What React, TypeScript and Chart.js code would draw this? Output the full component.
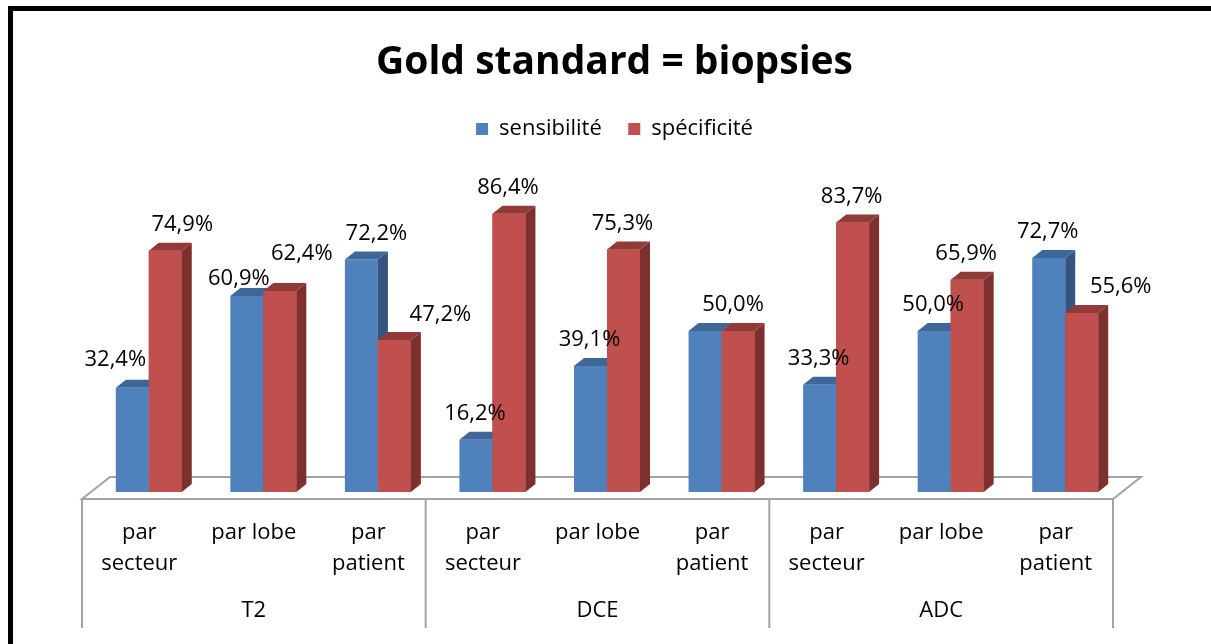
import React, { useEffect, useRef } from "react";
import { Chart, registerables } from "chart.js";

Chart.register(...registerables);

// ---- data ----
const categories: (string | string[])[] = [
  ["par", "secteur"], "par lobe", ["par", "patient"],
  ["par", "secteur"], "par lobe", ["par", "patient"],
  ["par", "secteur"], "par lobe", ["par", "patient"],
];
const groupLabels = ["T2", "DCE", "ADC"];
const groupSize = 3;
const seriesNames = ["sensibilité", "spécificité"];
const sensibilite = [32.4, 60.9, 72.2, 16.2, 39.1, 50.0, 33.3, 50.0, 72.7];
const specificite = [74.9, 62.4, 47.2, 86.4, 75.3, 50.0, 83.7, 65.9, 55.6];
const chartTitle = "Gold standard = biopsies";

// label placement tweaks (Excel moved some labels to avoid overlaps; null = hidden behind an identical label)
const labelNudgeSens: ([number, number] | null)[] = [[-16, -2], [-7, 9], [16, 0], [0, 0], [0, 0], null, [0, 0], [0, 0], [0, 0]];
const labelNudgeSpec: ([number, number] | null)[] = [[18, 0], [23, -11], [47, 1], [0, 0], [0, 0], [-4, 0], [0, 0], [0, 0], [40, 0]];

// ---- style ----
const FONT = "'Open Sans'";
const TEXT_SIZE = 22;
const BLUE = "#4F81BD", BLUE_TOP = "#3E6798", BLUE_SIDE = "#35547E";
const RED = "#C0504D", RED_TOP = "#903B38", RED_SIDE = "#7E302E";
const DEPTH_X = 10, DEPTH_Y = 8;
const SHIFT_X = 9.5, SHIFT_Y = 7;
const FLOOR_DX = 28, FLOOR_DY = 22;
const GRID = "#A3A3A3";

const fmt = (v: number) => v.toFixed(1).replace(".", ",") + "%";

function drawFaces(ctx: CanvasRenderingContext2D, el: any, side: string, top: string) {
  const l = el.x - el.width / 2, r = el.x + el.width / 2;
  const t = el.y, b = el.base;
  ctx.fillStyle = side;
  ctx.beginPath();
  ctx.moveTo(r, t);
  ctx.lineTo(r + DEPTH_X, t - DEPTH_Y);
  ctx.lineTo(r + DEPTH_X, b - DEPTH_Y);
  ctx.lineTo(r, b);
  ctx.closePath();
  ctx.fill();
  ctx.fillStyle = top;
  ctx.beginPath();
  ctx.moveTo(l, t);
  ctx.lineTo(r, t);
  ctx.lineTo(r + DEPTH_X, t - DEPTH_Y);
  ctx.lineTo(l + DEPTH_X, t - DEPTH_Y);
  ctx.closePath();
  ctx.fill();
}

const threeD = {
  id: "threeD",
  beforeDraw(chart: any) {
    const ctx = chart.ctx;
    ctx.save();
    ctx.fillStyle = "#fff";
    ctx.fillRect(0, 0, chart.width, chart.height);
    ctx.strokeStyle = "#000";
    ctx.lineWidth = 5;
    ctx.lineJoin = "miter";
    ctx.beginPath();
    ctx.moveTo(10.5, chart.height + 10);
    ctx.lineTo(10.5, 8.5);
    ctx.lineTo(chart.width + 10, 8.5);
    ctx.stroke();
    ctx.restore();
  },
  beforeDatasetsDraw(chart: any) {
    const { ctx, chartArea: a, scales } = chart;
    const x = scales.x;
    ctx.save();
    ctx.strokeStyle = GRID;
    ctx.lineWidth = 2;
    ctx.fillStyle = "#fff";
    ctx.beginPath();
    ctx.moveTo(a.left, a.bottom);
    ctx.lineTo(a.right, a.bottom);
    ctx.lineTo(a.right + FLOOR_DX, a.bottom - FLOOR_DY);
    ctx.lineTo(a.left + FLOOR_DX, a.bottom - FLOOR_DY);
    ctx.closePath();
    ctx.fill();
    ctx.stroke();
    // group dividers
    const xs = [a.left, a.right];
    for (let g = 1; g < groupLabels.length; g++) {
      const i = g * groupSize;
      xs.push((x.getPixelForValue(i - 1) + x.getPixelForValue(i)) / 2);
    }
    ctx.beginPath();
    xs.forEach((px) => {
      ctx.moveTo(px, a.bottom);
      ctx.lineTo(px, a.bottom + 129);
    });
    ctx.stroke();
    // group labels
    ctx.fillStyle = "#000";
    ctx.font = `${TEXT_SIZE}px ${FONT}`;
    ctx.textAlign = "center";
    ctx.textBaseline = "middle";
    groupLabels.forEach((g, k) => {
      const px = x.getPixelForValue(k * groupSize + (groupSize - 1) / 2);
      ctx.fillText(g, px, a.bottom + 112);
    });
    ctx.restore();
    ctx.save();
    ctx.translate(SHIFT_X, -SHIFT_Y);
  },
  afterDatasetsDraw(chart: any) {
    const ctx = chart.ctx;
    const metaS = chart.getDatasetMeta(0);
    const metaP = chart.getDatasetMeta(1);
    const dsS = chart.data.datasets[0] as any;
    const dsP = chart.data.datasets[1] as any;
    // depth faces: blue faces first, then the red bar (front redrawn by its Chart.js element) on top
    metaS.data.forEach((el: any, i: number) => {
      drawFaces(ctx, el, dsS.sideColor, dsS.topColor);
      const red = metaP.data[i];
      red.draw(ctx);
      drawFaces(ctx, red, dsP.sideColor, dsP.topColor);
    });
    ctx.restore();
    ctx.save();
    ctx.fillStyle = "#000";
    ctx.font = `${TEXT_SIZE}px ${FONT}`;
    ctx.textAlign = "center";
    ctx.textBaseline = "middle";
    chart.data.datasets.forEach((ds: any, di: number) => {
      const meta = chart.getDatasetMeta(di);
      const nudges = di === 0 ? labelNudgeSens : labelNudgeSpec;
      meta.data.forEach((el: any, i: number) => {
        const n = nudges[i];
        if (!n) return;
        const cx = el.x + SHIFT_X - 1 + n[0];
        const cy = el.y - SHIFT_Y - 26 + n[1];
        ctx.fillText(fmt(ds.data[i]), cx, cy);
      });
    });
    ctx.restore();
  },
};

export default function App() {
  const ref = useRef<HTMLCanvasElement>(null);
  useEffect(() => {
    Chart.defaults.font.family = FONT;
    const chart = new Chart(ref.current!, {
      type: "bar",
      data: {
        labels: categories as any,
        datasets: [
          {
            label: seriesNames[0],
            data: sensibilite,
            backgroundColor: BLUE,
            borderWidth: 0,
            clip: false,
            sideColor: BLUE_SIDE,
            topColor: BLUE_TOP,
          } as any,
          {
            label: seriesNames[1],
            data: specificite,
            backgroundColor: RED,
            borderWidth: 0,
            clip: false,
            sideColor: RED_SIDE,
            topColor: RED_TOP,
          } as any,
        ],
      },
      options: {
        responsive: false,
        animation: false,
        events: [],
        layout: { padding: { left: 18, right: 0, top: 0, bottom: 0 } },
        datasets: { bar: { barPercentage: 1, categoryPercentage: 0.576 } },
        scales: {
          x: {
            type: "category",
            grid: { display: false },
            border: { display: false },
            ticks: {
              autoSkip: false,
              maxRotation: 0,
              minRotation: 0,
              padding: 10.5,
              color: "#000",
              font: { family: FONT, size: TEXT_SIZE, lineHeight: 1.4 },
            },
            afterFit: (s: any) => { s.height = 145; },
          },
          xTop: {
            type: "linear",
            position: "top",
            min: 0,
            max: 1,
            grid: { display: false },
            border: { display: false },
            ticks: { display: false },
            afterFit: (s: any) => { s.height = 27; },
          },
          y: {
            min: 0,
            max: 100,
            position: "left",
            grid: { display: false },
            border: { display: false },
            ticks: { display: false },
            afterFit: (s: any) => { s.width = 64; },
          },
          y2: {
            type: "linear",
            min: 0,
            max: 100,
            position: "right",
            grid: { display: false },
            border: { display: false },
            ticks: { display: false },
            afterFit: (s: any) => { s.width = 98; },
          },
        },
        plugins: {
          title: {
            display: true,
            text: chartTitle,
            color: "#000",
            font: { family: FONT, size: 39, weight: "bold" },
            padding: { top: 39, bottom: 5.7 },
          },
          legend: {
            display: true,
            position: "top",
            labels: {
              boxWidth: 12,
              boxHeight: 12,
              padding: 26.5,
              color: "#000",
              font: { family: FONT, size: TEXT_SIZE },
            },
          },
          tooltip: { enabled: false },
        },
      } as any,
      plugins: [threeD],
    });
    return () => chart.destroy();
  }, []);
  return (
    <div style={{ position: "fixed", left: 0, top: 0, width: 1211, height: 644, background: "#fff" }}>
      <canvas ref={ref} width={1211} height={644} style={{ display: "block" }} />
    </div>
  );
}
